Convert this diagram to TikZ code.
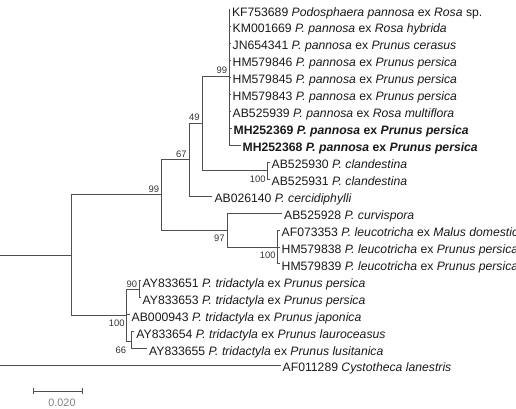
\documentclass[tikz,border=0pt]{standalone}
\usepackage{fontspec}
\setmainfont{Liberation Sans}
\definecolor{linec}{HTML}{505050}
\definecolor{txtc}{HTML}{1A1A1A}
\definecolor{bsc}{HTML}{333333}
\definecolor{scc}{HTML}{808080}
\begin{document}
\begin{tikzpicture}[x=1pt,y=-1pt,
  br/.style={draw=linec, line width=0.95pt},
  lf/.style={anchor=west, inner xsep=2pt, inner ysep=0pt, text height=12.6pt, text depth=0pt, font=\fontsize{12.2}{14}\selectfont, text=txtc},
  bs/.style={anchor=east, inner sep=0.3pt, font=\fontsize{9.4}{11}\selectfont, text=bsc},
]
\useasboundingbox (0,0) rectangle (516,408);
% internal nodes
\coordinate (rA) at (0,255);
\coordinate (rB) at (0,365.65);
\coordinate (ing) at (71.7,255);
\coordinate (n99b) at (161.7,194.8);
\coordinate (n67) at (189,159.6);
\coordinate (n49) at (202.3,123);
\coordinate (n99a) at (229.3,76);
\coordinate (ncl) at (267.7,170);
\coordinate (n97) at (227,230);
\coordinate (nle) at (277.7,247);
\coordinate (ntr) at (126.7,315.2);
\coordinate (n90) at (139,289.4);
\coordinate (n66) at (131.7,341);
% leaves
\node[lf] (l1) at (229.8,9.7) {KF753689 \textit{Podosphaera pannosa} ex \textit{Rosa} sp.};
\node[lf] (l2) at (230.5,26.65) {KM001669 \textit{P. pannosa} ex \textit{Rosa hybrida}};
\node[lf] (l3) at (230.5,43.6) {JN654341 \textit{P. pannosa} ex \textit{Prunus cerasus}};
\node[lf] (l4) at (230.5,60.55) {HM579846 \textit{P. pannosa} ex \textit{Prunus persica}};
\node[lf] (l5) at (230.5,77.5) {HM579845 \textit{P. pannosa} ex \textit{Prunus persica}};
\node[lf] (l6) at (230.5,94.45) {HM579843 \textit{P. pannosa} ex \textit{Prunus persica}};
\node[lf] (l7) at (230.5,111.4) {AB525939 \textit{P. pannosa} ex \textit{Rosa multiflora}};
\node[lf] (l8) at (231.5,128.35) {\textbf{MH252369 \textit{P. pannosa} ex \textit{Prunus persica}}};
\node[lf] (l9) at (240.5,145.3) {\textbf{MH252368 \textit{P. pannosa} ex \textit{Prunus persica}}};
\node[lf] (l10) at (269.5,162.25) {AB525930 \textit{P. clandestina}};
\node[lf] (l11) at (269.5,179.2) {AB525931 \textit{P. clandestina}};
\node[lf] (l12) at (212.3,196.15) {AB026140 \textit{P. cercidiphylli}};
\node[lf] (l13) at (282,213.1) {AB525928 \textit{P. curvispora}};
\node[lf] (l14) at (279.5,230.05) {AF073353 \textit{P. leucotricha} ex \textit{Malus domestica}};
\node[lf] (l15) at (279.5,247.0) {HM579838 \textit{P. leucotricha} ex \textit{Prunus persica}};
\node[lf] (l16) at (279.5,263.95) {HM579839 \textit{P. leucotricha} ex \textit{Prunus persica}};
\node[lf] (l17) at (140.5,280.9) {AY833651 \textit{P. tridactyla} ex \textit{Prunus persica}};
\node[lf] (l18) at (140.5,297.85) {AY833653 \textit{P. tridactyla} ex \textit{Prunus persica}};
\node[lf] (l19) at (129.5,314.8) {AB000943 \textit{P. tridactyla} ex \textit{Prunus japonica}};
\node[lf] (l20) at (134.2,331.75) {AY833654 \textit{P. tridactyla} ex \textit{Prunus lauroceasus}};
\node[lf] (l21) at (147,348.7) {AY833655 \textit{P. tridactyla} ex \textit{Prunus lusitanica}};
\node[lf] (l22) at (280.5,365.65) {AF011289 \textit{Cystotheca lanestris}};
% branches
\draw[br] (rA) -- (ing);
\draw[br] (rB) -- (l22.west);
\draw[br] (ing) |- (n99b);
\draw[br] (ing) |- (ntr);
\draw[br] (n99b) |- (n67);
\draw[br] (n99b) |- (n97);
\draw[br] (n67) |- (n49);
\draw[br] (n67) |- (l12.west);
\draw[br] (n49) |- (n99a);
\draw[br] (n49) |- (ncl);
\foreach \i in {1,...,9} {\draw[br] (n99a) |- (l\i.west);}
\draw[br] (ncl) |- (l10.west);
\draw[br] (ncl) |- (l11.west);
\draw[br] (n97) |- (l13.west);
\draw[br] (n97) |- (nle);
\foreach \i in {14,15,16} {\draw[br] (nle) |- (l\i.west);}
\draw[br] (ntr) |- (n90);
\draw[br] (ntr) |- (l19.west);
\draw[br] (ntr) |- (n66);
\draw[br] (n90) |- (l17.west);
\draw[br] (n90) |- (l18.west);
\draw[br] (n66) |- (l20.west);
\draw[br] (n66) |- (l21.west);
% bootstrap values
\node[bs] (b1) at (227.7,70.7) {99};
\node[bs] (b2) at (200,117) {49};
\node[bs] (b3) at (187.2,154) {67};
\node[bs] (b4) at (159.5,189) {99};
\node[bs] (b5) at (266,179) {100};
\node[bs] (b6) at (225,238) {97};
\node[bs] (b7) at (276,255.7) {100};
\node[bs] (b8) at (137.7,284) {90};
\node[bs] (b9) at (125,323) {100};
\node[bs] (b10) at (126.7,350) {66};
% scale bar
\coordinate (s1) at (33,391);
\coordinate (s2) at (82.7,391);
\draw[br] (s1) -- (s2);
\draw[br] ([yshift=-3pt]s1) -- ([yshift=3pt]s1);
\draw[br] ([yshift=-3pt]s2) -- ([yshift=3pt]s2);
\node[font=\fontsize{10.8}{12}\selectfont, text=scc, inner sep=0pt] (sl) at (62,402.7) {0.020};
\end{tikzpicture}
\end{document}
